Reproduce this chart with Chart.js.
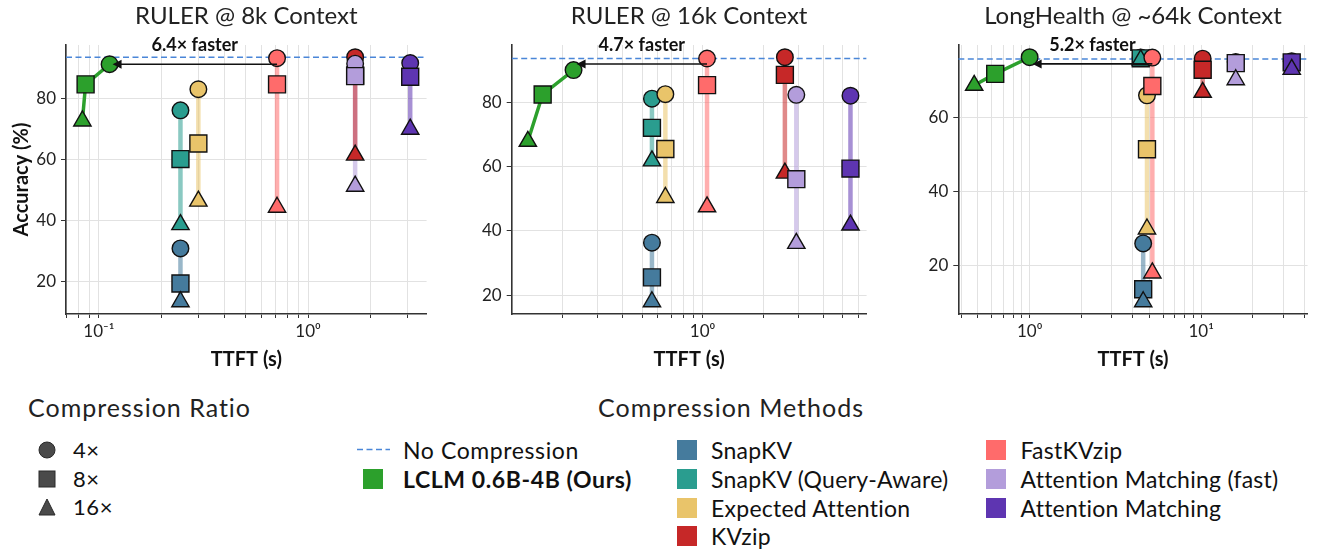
<!DOCTYPE html>
<html>
<head>
<meta charset="utf-8">
<script src="https://cdn.jsdelivr.net/npm/chart.js@4.4.1/dist/chart.umd.min.js"></script>
<style>
  body { margin: 0; background: #fff; width: 1321px; height: 550px; position: relative; overflow: hidden; font-family: Lato, sans-serif; color: #111; }
  canvas { position: absolute; top: 0; }
  .lg { position: absolute; white-space: nowrap; line-height: 28px; height: 28px; font-size: 23px; letter-spacing: 0.6px; }
  .lg-small { font-size: 22px; }
  .lg-method { letter-spacing: 0.25px; }
  .lg-title { font-size: 25px; letter-spacing: 1px; line-height: 30px; height: 30px; color: #222; }
  .mk { position: absolute; }
  .mk svg { display: block; }
</style>
</head>
<body>
<canvas id="c0" width="440" height="375" style="left:0px"></canvas>
<canvas id="c1" width="440" height="375" style="left:440px"></canvas>
<canvas id="c2" width="441" height="375" style="left:880px"></canvas>
<div id="legend"></div>
<script>
// Panels
const panelTitles = ['RULER @ 8k Context', 'RULER @ 16k Context', 'LongHealth @ ~64k Context'];

// Baseline methods
const methodNames = ['SnapKV', 'SnapKV (Query-Aware)', 'Expected Attention', 'KVzip',
  'FastKVzip', 'Attention Matching (fast)', 'Attention Matching'];
const methodColors = ['#457B9D', '#2A9D8F', '#E9C46A', '#C62828', '#FF6B6B', '#B39DDB', '#5E35B1'];

// Compression ratios (4x, 8x, 16x) -> marker shapes
const ratioLabels = ['4×', '8×', '16×'];
const ratioStyles = ['circle', 'rect', 'triangle'];
const ratioRadius = [8.3, 12, 10];

// TTFT (s) per method
const ttft8k = [0.2455, 0.2455, 0.299, 1.68, 0.711, 1.68, 3.08];
const ttft16k = [0.56, 0.56, 0.653, 2.57, 1.053, 2.93, 5.45];
const ttft64k = [4.59, 4.44, 4.83, 10.2, 5.19, 15.9, 33.7];

// Accuracy (%) per method: [4x, 8x, 16x]
const acc8k = [
  [30.8, 19.3, 13.3],
  [76.1, 60.1, 38.6],
  [83.0, 65.2, 46.3],
  [93.5, 87.5, 61.4],
  [93.2, 84.6, 44.3],
  [91.4, 87.3, 51.2],
  [91.6, 87.1, 69.9],
];
const acc16k = [
  [36.3, 25.5, 17.9],
  [81.2, 72.1, 61.8],
  [82.6, 65.5, 50.4],
  [94.1, 88.6, 58.0],
  [93.7, 85.4, 47.5],
  [82.4, 56.1, 36.1],
  [82.1, 59.4, 41.8],
];
const acc64k = [
  [25.9, 13.5, 10.1],
  [76.2, 76.0, 75.6],
  [66.0, 51.4, 29.8],
  [75.9, 72.9, 66.8],
  [76.2, 68.5, 17.9],
  [75.0, 74.7, 70.2],
  [75.2, 74.9, 73.0],
];

// LCLM 0.6B-4B (Ours): [4x, 8x, 16x]
const lclmTtft8k = [0.1125, 0.0864, 0.0834];
const lclmAcc8k = [91.2, 84.6, 72.6];
const lclmTtft16k = [0.228, 0.160, 0.135];
const lclmAcc16k = [90.1, 82.5, 67.9];
const lclmTtft64k = [1.0, 0.63, 0.475];
const lclmAcc64k = [76.3, 71.8, 68.7];
const lclmColor = '#2CA02C';

// No compression accuracy
const noCompression = [93.5, 93.7, 75.8];

// Speed-up annotation (arrow from FastKVzip 4x to LCLM 4x)
const speedupLabels = ['6.4× faster', '4.7× faster', '5.2× faster'];
const arrowAcc = [91.2, 92.0, 74.5];

const yTickValues = [20, 40, 60, 80];

const panels = [
  { ttft: ttft8k, acc: acc8k, lclmTtft: lclmTtft8k, lclmAcc: lclmAcc8k, yWidth: 66, padRight: 12 },
  { ttft: ttft16k, acc: acc16k, lclmTtft: lclmTtft16k, lclmAcc: lclmAcc16k, yWidth: 71.7, padRight: 5.7 },
  { ttft: ttft64k, acc: acc64k, lclmTtft: lclmTtft64k, lclmAcc: lclmAcc64k, yWidth: 78.3, padRight: 1 },
];

function hexToRgba(hex, a) {
  const n = parseInt(hex.slice(1), 16);
  return `rgba(${(n >> 16) & 255},${(n >> 8) & 255},${n & 255},${a})`;
}

function logTicks(min, max) {
  const out = [];
  for (let e = Math.floor(Math.log10(min)); e <= Math.ceil(Math.log10(max)); e++) {
    for (let k = 1; k <= 9; k++) {
      const v = k * Math.pow(10, e);
      if (v >= min && v <= max) out.push({ value: v });
    }
  }
  return out;
}

const sup = { '-': '⁻', '0': '⁰', '1': '¹', '2': '²', '3': '³' };
function powLabel(v) {
  const e = Math.round(Math.log10(v));
  if (Math.abs(v / Math.pow(10, e) - 1) > 1e-6) return '';
  return '10' + String(e).split('').map(c => sup[c]).join('');
}

// arrow + "N× faster" label
const speedArrow = {
  id: 'speedArrow',
  afterDatasetsDraw(chart, args, opts) {
    const { ctx } = chart;
    const xs = chart.scales.x, ys = chart.scales.y;
    const x0 = xs.getPixelForValue(opts.from);
    const x1 = xs.getPixelForValue(opts.to) + 3;
    const yy = ys.getPixelForValue(opts.y);
    ctx.save();
    ctx.strokeStyle = '#111';
    ctx.fillStyle = '#111';
    ctx.lineWidth = 1.6;
    ctx.beginPath();
    ctx.moveTo(x0, yy);
    ctx.lineTo(x1 + 8, yy);
    ctx.stroke();
    ctx.beginPath();
    ctx.moveTo(x1, yy);
    ctx.lineTo(x1 + 9, yy - 4.5);
    ctx.lineTo(x1 + 9, yy + 4.5);
    ctx.closePath();
    ctx.fill();
    ctx.font = 'bold 18px Lato, sans-serif';
    ctx.textAlign = 'center';
    ctx.textBaseline = 'middle';
    ctx.fillText(opts.text, (x0 + x1) / 2, yy - 19);
    ctx.restore();
  }
};

function buildChart(idx) {
  const p = panels[idx];
  const allX = p.ttft.concat(p.lclmTtft);
  const allY = p.acc.flat().concat(p.lclmAcc);
  const lx0 = Math.log10(Math.min(...allX)), lx1 = Math.log10(Math.max(...allX));
  const xMin = Math.pow(10, lx0 - 0.05 * (lx1 - lx0));
  const xMax = Math.pow(10, lx1 + 0.05 * (lx1 - lx0));
  const y0 = Math.min(...allY), y1 = Math.max(...allY);
  const yMin = y0 - 0.05 * (y1 - y0), yMax = y1 + 0.05 * (y1 - y0);

  const datasets = [];
  datasets.push({
    data: [{ x: xMin, y: noCompression[idx] }, { x: xMax, y: noCompression[idx] }],
    showLine: true, borderColor: '#4A86D8', borderWidth: 1.5, borderDash: [6, 3.5],
    pointRadius: 0, order: 300
  });
  methodNames.forEach((name, i) => {
    const pts = p.acc[i].map(v => ({ x: p.ttft[i], y: v }));
    datasets.push({
      data: pts, showLine: true, borderColor: hexToRgba(methodColors[i], 0.55),
      borderWidth: 4.5, pointRadius: 0, order: 200
    });
    datasets.push({
      data: pts, showLine: false, pointStyle: ratioStyles, pointRadius: ratioRadius,
      backgroundColor: methodColors[i], borderColor: '#111', borderWidth: 1.4,
      order: 100 - i, clip: false
    });
  });
  datasets.push({
    data: p.lclmAcc.map((v, k) => ({ x: p.lclmTtft[k], y: v })),
    showLine: true, borderColor: lclmColor, borderWidth: 3.5,
    pointStyle: ratioStyles, pointRadius: ratioRadius, pointBackgroundColor: lclmColor,
    pointBorderColor: '#111', pointBorderWidth: 1.4, order: 10, clip: false
  });

  new Chart(document.getElementById('c' + idx), {
    type: 'scatter',
    data: { datasets },
    plugins: [speedArrow],
    options: {
      responsive: false,
      animation: false,
      events: [],
      layout: { padding: { left: 0, right: p.padRight, top: 0, bottom: 0 } },
      plugins: {
        legend: { display: false },
        tooltip: { enabled: false },
        title: {
          display: true, text: panelTitles[idx], color: '#222', fullSize: false,
          font: { family: 'Lato, sans-serif', size: 24, weight: 'normal' },
          padding: { top: 1.6, bottom: 14.6 }
        },
        speedArrow: { from: p.ttft[4], to: p.lclmTtft[0], y: arrowAcc[idx], text: speedupLabels[idx] }
      },
      scales: {
        x: {
          type: 'logarithmic', min: xMin, max: xMax,
          afterBuildTicks: s => { s.ticks = logTicks(xMin, xMax); },
          afterFit: s => { s.height = 61; },
          ticks: {
            autoSkip: false, maxRotation: 0, padding: 3, color: '#222',
            font: { family: 'Lato, sans-serif', size: 17 },
            callback: v => powLabel(v)
          },
          grid: { color: '#e2e2e2', lineWidth: 1, tickColor: '#333', tickLength: 4 },
          border: { color: '#333', width: 1.6 },
          title: {
            display: true, text: 'TTFT (s)', color: '#111',
            font: { family: 'Lato, sans-serif', size: 20, weight: 'bold' },
            padding: { top: 0, bottom: 3 }
          }
        },
        y: {
          min: yMin, max: yMax,
          afterBuildTicks: s => { s.ticks = yTickValues.filter(v => v >= yMin && v <= yMax).map(v => ({ value: v })); },
          afterFit: s => { s.width = p.yWidth; },
          ticks: { padding: 5, color: '#222', font: { family: 'Lato, sans-serif', size: 17 } },
          grid: { color: '#e2e2e2', lineWidth: 1, tickColor: '#333', tickLength: 5 },
          border: { color: '#333', width: 1.6 },
          title: {
            display: idx === 0, text: 'Accuracy (%)', color: '#111',
            font: { family: 'Lato, sans-serif', size: 20, weight: 'bold' },
            padding: { top: 10, bottom: 0 }
          }
        }
      }
    }
  });
}

panels.forEach((p, i) => buildChart(i));

// ---- legend (HTML) ----
const legend = document.getElementById('legend');
function addText(text, left, cy, cls, extra) {
  const d = document.createElement('div');
  d.className = 'lg ' + (cls || '');
  d.textContent = text;
  d.style.left = left + 'px';
  const h = cls === 'lg-title' ? 30 : 28;
  d.style.top = (cy - h / 2) + 'px';
  if (extra) Object.assign(d.style, extra);
  legend.appendChild(d);
  return d;
}
function addMarker(shape, cx, cy, size, fill, stroke) {
  const s = size, h = s / 2;
  let body;
  if (shape === 'circle') body = `<circle cx="${h + 1}" cy="${h + 1}" r="${h}" />`;
  else if (shape === 'rect') body = `<rect x="1" y="1" width="${s}" height="${s}" />`;
  else body = `<polygon points="${h + 1},1 ${s + 1},${s + 1} 1,${s + 1}" />`;
  const d = document.createElement('div');
  d.className = 'mk';
  d.style.left = (cx - h - 1) + 'px';
  d.style.top = (cy - h - 1) + 'px';
  d.innerHTML = `<svg width="${s + 2}" height="${s + 2}"><g fill="${fill}" stroke="${stroke}" stroke-width="${stroke === 'none' ? 0 : 1}">${body}</g></svg>`;
  legend.appendChild(d);
}

addText('Compression Ratio', 28, 407, 'lg-title');
const ratioRowsY = [450, 479, 507];
ratioLabels.forEach((lab, k) => {
  addMarker(ratioStyles[k], 47.3, ratioRowsY[k], 16, '#4a4a4a', '#2a2a2a');
  addText(lab, 73, ratioRowsY[k], 'lg-small');
});

const mt = addText('Compression Methods', 0, 407, 'lg-title');
mt.style.left = (731 - mt.offsetWidth / 2) + 'px';

// No Compression dashed sample
const dash = document.createElement('div');
dash.className = 'mk';
dash.style.left = '357px';
dash.style.top = '448px';
dash.innerHTML = '<svg width="33" height="3"><line x1="0" y1="1.5" x2="33" y2="1.5" stroke="#4A86D8" stroke-width="1.5" stroke-dasharray="6,3.5"/></svg>';
legend.appendChild(dash);
addText('No Compression', 403, 450);
addMarker('rect', 372.7, 479, 20, lclmColor, 'none');
addText('LCLM 0.6B-4B (Ours)', 403, 479, '', { fontWeight: 'bold' });

const methodRowsY = [450, 479, 507.5, 535.5];
methodNames.forEach((name, i) => {
  const col = i < 4 ? 0 : 1;
  const row = i < 4 ? i : i - 4;
  const sqX = col === 0 ? 687 : 996;
  const txX = col === 0 ? 711 : 1020.5;
  addMarker('rect', sqX, methodRowsY[row], 20, methodColors[i], 'none');
  addText(name, txX, methodRowsY[row], 'lg-method');
});
</script>
</body>
</html>
